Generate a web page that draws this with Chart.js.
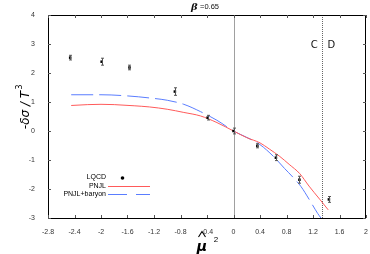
<!DOCTYPE html>
<html><head><meta charset="utf-8">
<script src="https://cdn.jsdelivr.net/npm/chart.js@4.4.1/dist/chart.umd.min.js"></script>
<style>html,body{margin:0;padding:0;background:#fff}#wrap{width:370px;height:254px}</style>
</head><body><div id="wrap"><canvas id="c" width="370" height="254"></canvas></div>
<script>
// LQCD data
const lqcdX = [-2.465, -1.99, -1.57, -0.885, -0.39, 0, 0.36, 0.64, 0.995, 1.44];
const lqcdY = [2.53, 2.39, 2.19, 1.36, 0.46, 0, -0.51, -0.92, -1.68, -2.36];
const lqcdErr = [0.08, 0.12, 0.08, 0.13, 0.08, 0.1, 0.07, 0.1, 0.12, 0.1];
// PNJL curve
const pnjlX = [-2.45, -2.2, -2.0, -1.8, -1.5, -1.27, -1.0, -0.75, -0.5, -0.25, 0, 0.2, 0.4, 0.54, 0.7, 0.84, 1.0, 1.14, 1.3, 1.43];
const pnjlY = [0.88, 0.91, 0.92, 0.91, 0.87, 0.83, 0.75, 0.64, 0.52, 0.29, 0, -0.23, -0.41, -0.62, -0.88, -1.15, -1.47, -1.9, -2.35, -2.72];
// PNJL+baryon curve
const baryX = [-2.45, -2.0, -1.6, -1.27, -1.0, -0.75, -0.5, -0.25, 0, 0.2, 0.4, 0.6, 0.77, 0.9, 1.02, 1.14, 1.27, 1.32];
const baryY = [1.25, 1.25, 1.21, 1.14, 1.06, 0.92, 0.67, 0.37, 0, -0.22, -0.47, -0.87, -1.29, -1.6, -1.92, -2.35, -2.84, -3.0];
const xTicks = [-2.8, -2.4, -2, -1.6, -1.2, -0.8, -0.4, 0, 0.4, 0.8, 1.2, 1.6, 2];
const yTicks = [-3, -2, -1, 0, 1, 2, 3, 4];
const boundaryX = 1.34;

const pts = (xs, ys) => xs.map((x, i) => ({x, y: ys[i]}));

const extras = {
  id: 'extras',
  beforeDatasetsDraw(chart) {
    const {ctx, chartArea: a, scales: {x, y}} = chart;
    ctx.save();
    ctx.strokeStyle = '#a0a0a0'; ctx.lineWidth = 1;
    const x0 = Math.round(x.getPixelForValue(0)) + 0.5;
    ctx.beginPath(); ctx.moveTo(x0, a.top); ctx.lineTo(x0, a.bottom); ctx.stroke();
    const xb = Math.round(x.getPixelForValue(boundaryX)) + 0.5;
    ctx.strokeStyle = '#666'; ctx.setLineDash([1, 1]);
    ctx.beginPath(); ctx.moveTo(xb, a.top); ctx.lineTo(xb, a.bottom); ctx.stroke();
    ctx.setLineDash([]);
    ctx.restore();
  },
  afterDatasetsDraw(chart) {
    const {ctx, chartArea: a, scales: {x, y}} = chart;
    ctx.save();
    // error bars
    ctx.strokeStyle = '#555'; ctx.lineWidth = 1;
    lqcdX.forEach((xv, i) => {
      const px = Math.round(x.getPixelForValue(xv)) + 0.5;
      const y1 = y.getPixelForValue(lqcdY[i] + lqcdErr[i]);
      const y2 = y.getPixelForValue(lqcdY[i] - lqcdErr[i]);
      ctx.beginPath();
      ctx.moveTo(px, y1); ctx.lineTo(px, y2);
      ctx.moveTo(px - 1.5, y1); ctx.lineTo(px + 1.5, y1);
      ctx.moveTo(px - 1.5, y2); ctx.lineTo(px + 1.5, y2);
      ctx.stroke();
    });
    // frame
    ctx.strokeStyle = '#000'; ctx.lineWidth = 1;
    ctx.strokeRect(Math.round(a.left) + 0.5, Math.round(a.top) + 0.5, Math.round(a.right - a.left) - 1, Math.round(a.bottom - a.top));
    // inward ticks
    ctx.strokeStyle = '#555';
    ctx.beginPath();
    xTicks.forEach(v => {
      const px = Math.round(x.getPixelForValue(v)) + 0.5;
      ctx.moveTo(px, a.bottom); ctx.lineTo(px, a.bottom - 3);
      ctx.moveTo(px, a.top); ctx.lineTo(px, a.top + 3);
    });
    yTicks.forEach(v => {
      const py = Math.round(y.getPixelForValue(v)) + 0.5;
      ctx.moveTo(a.left, py); ctx.lineTo(a.left + 3, py);
      ctx.moveTo(a.right, py); ctx.lineTo(a.right - 3, py);
    });
    ctx.stroke();
    // C / D labels
    ctx.fillStyle = '#111';
    ctx.font = '10px "DejaVu Sans"';
    ctx.textBaseline = 'middle'; ctx.textAlign = 'center';
    ctx.fillText('C', x.getPixelForValue(boundaryX) - 8, 45);
    ctx.fillText('D', x.getPixelForValue(boundaryX) + 9, 45);
    // title
    ctx.textAlign = 'left';
    ctx.font = 'italic bold 10px "DejaVu Serif"';
    ctx.fillText('β', 191, 7);
    ctx.font = '7.5px "Liberation Sans"';
    ctx.fillText('=0.65', 200, 7);
    // legend
    ctx.font = '7px "Liberation Sans"';
    ctx.textAlign = 'right';
    ctx.fillStyle = '#000';
    ctx.fillText('LQCD', 106, 177.5);
    ctx.fillText('PNJL', 106, 186);
    ctx.fillText('PNJL+baryon', 106, 194.5);
    ctx.beginPath(); ctx.arc(122.5, 178, 1.8, 0, Math.PI * 2); ctx.fill();
    ctx.strokeStyle = '#ff5a5a'; ctx.lineWidth = 1;
    ctx.beginPath(); ctx.moveTo(108, 186.5); ctx.lineTo(150, 186.5); ctx.stroke();
    ctx.strokeStyle = '#5a7dff';
    ctx.beginPath(); ctx.moveTo(108, 194.5); ctx.lineTo(127, 194.5); ctx.moveTo(136, 194.5); ctx.lineTo(150, 194.5); ctx.stroke();
    // y title
    ctx.save();
    ctx.translate(26, 107);
    ctx.rotate(-Math.PI / 2);
    ctx.textAlign = 'center';
    ctx.font = 'italic 12px "DejaVu Sans"';
    ctx.fillText('-δσ / T', -3, 0);
    ctx.font = '8px "DejaVu Sans"';
    ctx.fillText('3', 20, -6);
    ctx.restore();
    // x title: mu with hat, squared
    ctx.textAlign = 'center';
    ctx.fillStyle = '#000';
    ctx.font = 'italic bold 14px "DejaVu Sans"';
    ctx.fillText('μ', 202, 247);
    ctx.strokeStyle = '#000'; ctx.lineWidth = 1.1;
    ctx.beginPath(); ctx.moveTo(198.5, 237); ctx.lineTo(202, 231.5); ctx.lineTo(205.5, 237); ctx.stroke();
    ctx.font = '8px "Liberation Sans"';
    ctx.fillText('2', 216, 240);
    ctx.restore();
  }
};

new Chart(document.getElementById('c'), {
  type: 'scatter',
  data: {
    datasets: [
      {label: 'LQCD', data: pts(lqcdX, lqcdY), pointStyle: 'rect', pointRadius: 1.8, backgroundColor: '#000', borderColor: '#000', borderWidth: 0},
      {label: 'PNJL', data: pts(pnjlX, pnjlY), showLine: true, pointRadius: 0, borderColor: '#ff5a5a', borderWidth: 1, cubicInterpolationMode: 'monotone', fill: false},
      {label: 'PNJL+baryon', data: pts(baryX, baryY), showLine: true, pointRadius: 0, borderColor: '#5a7dff', borderWidth: 1, borderDash: [22, 6], cubicInterpolationMode: 'monotone', fill: false}
    ]
  },
  options: {
    responsive: false, animation: false, events: [],
    layout: {padding: {top: 15, right: 3, left: 0, bottom: 0}},
    plugins: {legend: {display: false}, tooltip: {enabled: false}, title: {display: false}},
    scales: {
      x: {
        type: 'linear', min: -2.8, max: 2,
        afterBuildTicks: s => { s.ticks = xTicks.map(v => ({value: v})); },
        afterFit: s => { s.height = 36; },
        grid: {display: false}, border: {display: false},
        ticks: {font: {size: 7, family: 'Liberation Sans'}, color: '#333', padding: 2, maxRotation: 0, autoSkip: false,
          callback: v => String(v)}
      },
      y: {
        type: 'linear', min: -3, max: 4,
        afterBuildTicks: s => { s.ticks = yTicks.map(v => ({value: v})); },
        afterFit: s => { s.width = 48; },
        grid: {display: false}, border: {display: false},
        ticks: {font: {size: 7, family: 'Liberation Sans'}, color: '#333', padding: 5, autoSkip: false,
          callback: v => String(v)}
      }
    }
  },
  plugins: [extras]
});
</script></body></html>
